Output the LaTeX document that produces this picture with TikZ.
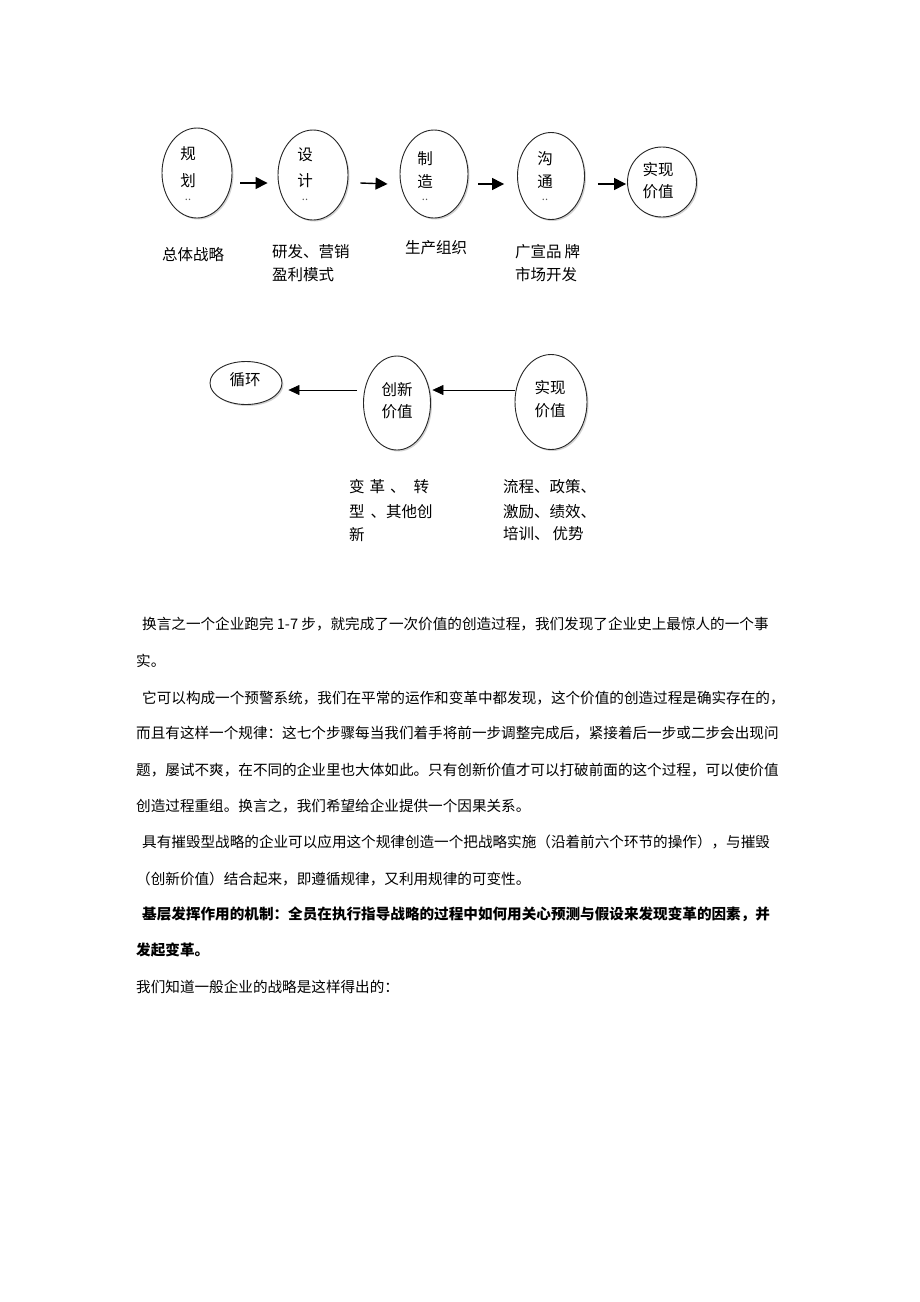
\documentclass[tikz,border=0pt]{standalone}
\usepackage{fontspec}
\setmainfont{Noto Sans CJK SC}
\usetikzlibrary{shapes.geometric,shadows,arrows.meta}
\newcommand\dfont{\fontsize{15.5pt}{18pt}\selectfont}
\newcommand\pfont{\fontsize{14.6pt}{18pt}\selectfont}
\begin{document}
\begin{tikzpicture}[x=1pt,y=-1pt,
  el/.style={ellipse,draw=black!85,line width=0.9pt,fill=white,inner sep=0pt,
    drop shadow={shadow xshift=1.5pt,shadow yshift=-1.5pt,fill=black!35}},
  lbl/.style={anchor=west,inner sep=0pt,font=\dfont},
  ctr/.style={inner sep=0pt,font=\dfont},
  dotsty/.style={inner sep=0pt,font=\fontsize{11pt}{11pt}\selectfont,text=black!65,
    text height=1.5pt,text depth=0pt},
  toparr/.style={line width=1.4pt,-{Triangle[length=12pt,width=12pt]}},
  botarr/.style={line width=0.6pt,-{Triangle[length=11pt,width=10pt]}},
  para/.style={anchor=west,inner sep=0pt,font=\pfont}]
\useasboundingbox[fill=white] (0,0) rectangle (920,1302);

% top row
\node[el,minimum width=70,minimum height=90] (g1) at (197,173) {};
\node[el,minimum width=70,minimum height=90] (g2) at (313,175) {};
\node[el,minimum width=68,minimum height=88] (g3) at (434,174) {};
\node[el,minimum width=67,minimum height=87] (g4) at (551,176) {};
\node[el,minimum width=69,minimum height=70] (g5) at (662,182) {};

\node[ctr] (g1a) at (188,154) {规};
\node[ctr] (g1b) at (188,181) {划};
\node[dotsty] (g1c) at (188,200) {..};
\node[ctr] (g2a) at (305,155) {设};
\node[ctr] (g2b) at (305,181) {计};
\node[dotsty] (g2c) at (305,200) {..};
\node[ctr] (g3a) at (425,159) {制};
\node[ctr] (g3b) at (425,182) {造};
\node[dotsty] (g3c) at (425,200) {..};
\node[ctr] (g4a) at (545,159) {沟};
\node[ctr] (g4b) at (545,182) {通};
\node[dotsty] (g4c) at (545,200) {..};
\node[ctr] (g5a) at (658,170) {实现};
\node[ctr] (g5b) at (658,192) {价值};

\draw[toparr] ([shift={(8pt,-10pt)}]g1.east) -- ([shift={(-10pt,-8pt)}]g2.west);
\draw[toparr] ([shift={(12pt,-8pt)}]g2.east) -- ([shift={(-12pt,-10pt)}]g3.west);
\draw[toparr] ([shift={(10pt,-10pt)}]g3.east) -- ([shift={(-13pt,-8pt)}]g4.west);
\draw[toparr] ([shift={(13pt,-8pt)}]g4.east) -- ([shift={(-1pt,-2pt)}]g5.west);

\node[lbl] (t1) at (162,255) {总体战略};
\node[lbl] (t2a) at (272,252) {研发、营销};
\node[lbl] (t2b) at (272,275) {盈利模式};
\node[lbl] (t3) at (405,248) {生产组织};
\node[lbl] (t4a) at (515,252) {广宣品\hspace{3pt}牌};
\node[lbl] (t4b) at (515,275) {市场开发};

% bottom row
\node[el,minimum width=72,minimum height=43] (b1) at (246,383) {};
\node[el,minimum width=67,minimum height=94] (b2) at (397,403) {};
\node[el,minimum width=72,minimum height=95] (b3) at (551,402) {};

\node[ctr] (b1a) at (245,380) {循环};
\node[ctr] (b2a) at (397,390) {创新};
\node[ctr] (b2b) at (397,412) {价值};
\node[ctr] (b3a) at (550,388) {实现};
\node[ctr] (b3b) at (550,411) {价值};

\draw[botarr] ([shift={(0pt,12pt)}]b3.west) -- ([shift={(1.5pt,13pt)}]b2.east);
\draw[botarr] ([shift={(-6pt,13pt)}]b2.west) -- ([shift={(6pt,-7pt)}]b1.east);

\node[lbl] (u1a) at (349,487) {变\hspace{5pt}革\hspace{5pt}、\hspace{8pt}转};
\node[lbl] (u1b) at (349,512) {型\hspace{6pt}、其他创};
\node[lbl] (u1c) at (349,535) {新};
\node[lbl] (u2a) at (503,487) {流程、政策、};
\node[lbl] (u2b) at (503,512) {激励、绩效、};
\node[lbl] (u2c) at (503,534) {培训、\hspace{3pt}优势};

% paragraph text
\node[para] (p1) at (142,624) {换言之一个企业跑完 1-7 步，就完成了一次价值的创造过程，我们发现了企业史上最惊人的一个事};
\node[para] (p2) at (136,661) {实。};
\node[para] (p3) at (142,698) {它可以构成一个预警系统，我们在平常的运作和变革中都发现，这个价值的创造过程是确实存在的，};
\node[para] (p4) at (136,733) {而且有这样一个规律：这七个步骤每当我们着手将前一步调整完成后，紧接着后一步或二步会出现问};
\node[para] (p5) at (136,770) {题，屡试不爽，在不同的企业里也大体如此。只有创新价值才可以打破前面的这个过程，可以使价值};
\node[para] (p6) at (136,806) {创造过程重组。换言之，我们希望给企业提供一个因果关系。};
\node[para] (p7) at (142,842) {具有摧毁型战略的企业可以应用这个规律创造一个把战略实施（沿着前六个环节的操作），与摧毁};
\node[para] (p8) at (136,879) {（创新价值）结合起来，即遵循规律，又利用规律的可变性。};
\node[para,font=\pfont\bfseries] (p9) at (142,914) {基层发挥作用的机制：全员在执行指导战略的过程中如何用关心预测与假设来发现变革的因素，并};
\node[para,font=\pfont\bfseries] (p10) at (136,950) {发起变革。};
\node[para] (p11) at (136,987) {我们知道一般企业的战略是这样得出的：};
\end{tikzpicture}
\end{document}
